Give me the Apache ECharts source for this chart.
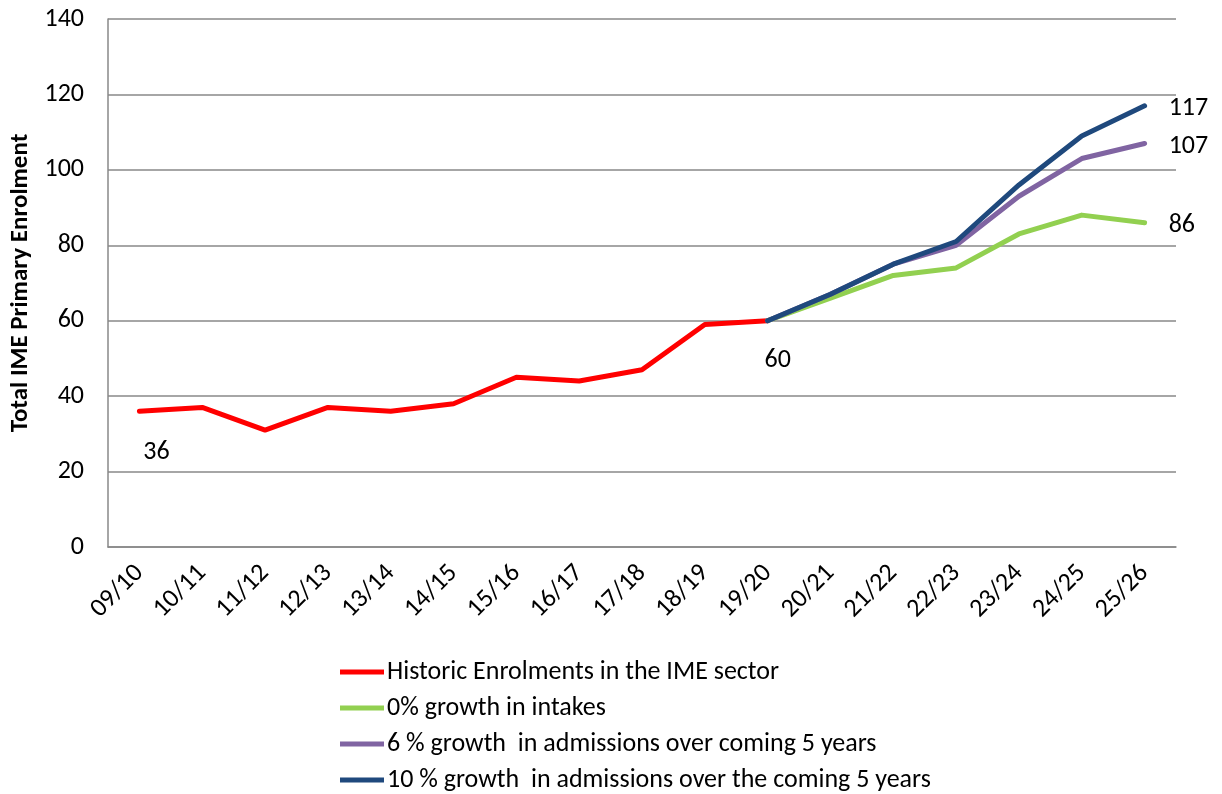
<!DOCTYPE html>
<html><head><meta charset="utf-8">
<script src="https://cdn.jsdelivr.net/npm/echarts@6/dist/echarts.min.js"></script>
<style>html,body{margin:0;padding:0;background:#fff}#c{width:1222px;height:794px}</style>
</head><body><div id="c"></div>
<script>
const categories = ['09/10','10/11','11/12','12/13','13/14','14/15','15/16','16/17','17/18','18/19','19/20','20/21','21/22','22/23','23/24','24/25','25/26'];
const historic = [36,37,31,37,36,38,45,44,47,59,60,null,null,null,null,null,null];
const growth0 = [null,null,null,null,null,null,null,null,null,null,60,66,72,74,83,88,86];
const growth6 = [null,null,null,null,null,null,null,null,null,null,60,67,75,80,93,103,107];
const growth10 = [null,null,null,null,null,null,null,null,null,null,60,67,75,81,96,109,117];
const seriesNames = ['Historic Enrolments in the IME sector','0% growth in intakes','6 % growth  in admissions over coming 5 years','10 % growth  in admissions over the coming 5 years'];
const yTicks = [0,20,40,60,80,100,120,140];

const FONT = 'Carlito, "Liberation Sans", Arial, sans-serif';
const FS = 26;
const labelStyle = {show:true, color:'#000', fontSize:FS, fontFamily:FONT};

function withLabels(arr, labelled) {
  return arr.map((v,i) => {
    if (labelled[i]) return {value:v, label:Object.assign({}, labelStyle, labelled[i])};
    return v;
  });
}
const histData = withLabels(historic, {0:{position:'bottom', offset:[17,23]}, 10:{position:'bottom', offset:[10,22]}});
const lastIdx = categories.length-1;
const rightLbl = {}; rightLbl[lastIdx] = {position:'right', offset:[19,3]};

function line(name, data, color) {
  return {name, type:'line', data, symbol:'circle', symbolSize:0.1, showSymbol:true, connectNulls:false,
    lineStyle:{color, width:5, join:'round', cap:'round'}, itemStyle:{color},
    label:{show:false}, emphasis:{disabled:true}, animation:false};
}

const chart = echarts.init(document.getElementById('c'), null, {renderer:'canvas'});
chart.setOption({
  animation:false,
  grid:{left:108, right:46, top:19, bottom:247, containLabel:false, outerBoundsMode:'none'},
  legend:{orient:'vertical', left:340, top:659, padding:0, itemWidth:44, itemHeight:5, itemGap:10,
    icon:'rect', textStyle:{fontSize:FS, lineHeight:26, fontFamily:FONT, color:'#000', padding:[0,0,0,-2]},
    data:seriesNames},
  xAxis:{type:'category', data:categories, boundaryGap:true,
    axisLine:{lineStyle:{color:'#888', width:1.5}}, axisTick:{show:false},
    axisLabel:{rotate:45, fontSize:FS, fontFamily:FONT, color:'#000', margin:22, interval:0}},
  yAxis:{type:'value', min:0, max:140, interval:20,
    name:'Total IME Primary Enrolment', nameLocation:'middle', nameGap:75, nameRotate:90,
    nameTextStyle:{fontSize:25, fontWeight:'bold', fontFamily:FONT, color:'#000'},
    axisLine:{show:true, lineStyle:{color:'#888', width:1.5}}, axisTick:{show:false},
    splitLine:{lineStyle:{color:'#888', width:1.5}},
    axisLabel:{fontSize:FS, fontFamily:FONT, color:'#000', margin:24,
      formatter:v => yTicks.includes(v) ? String(v) : ''}},
  series:[
    line(seriesNames[0], histData, '#FF0000'),
    line(seriesNames[1], withLabels(growth0, rightLbl), '#92D050'),
    line(seriesNames[2], withLabels(growth6, rightLbl), '#8064A2'),
    line(seriesNames[3], withLabels(growth10, rightLbl), '#1F497D')
  ]
});
</script></body></html>
